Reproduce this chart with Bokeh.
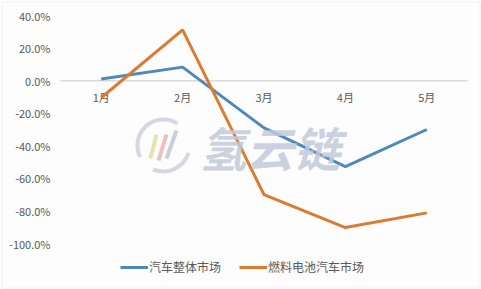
from bokeh.plotting import figure
from bokeh.models import Range1d, Legend, LegendItem, ColumnDataSource, BoxAnnotation, Label
from bokeh.core.properties import value
from bokeh.embed import file_html
from bokeh.resources import INLINE

months = ["1月", "2月", "3月", "4月", "5月"]
overall = [0.010, 0.083, -0.290, -0.528, -0.300]
fuel_cell = [-0.105, 0.312, -0.700, -0.902, -0.812]
y_ticks = [-1.0, -0.8, -0.6, -0.4, -0.2, 0.0, 0.2, 0.4]
y_tick_labels = ["-100.0%", "-80.0%", "-60.0%", "-40.0%", "-20.0%", "0.0%", "20.0%", "40.0%"]
series_names = ["汽车整体市场", "燃料电池汽车市场"]

FONT = "Noto Sans CJK SC"
GRAY = "#595959"
BLUE = "#4f88bb"
ORANGE = "#dc7a30"

W, H = 481, 289
# plot-area geometry (pixels): left/right edges and top/bottom of the value scale
PL, PR, PT, PB = 60, 467, 15, 243
YMIN, YMAX = -1.0, 0.4
n = len(months)
xs_per_px = n / (PR - PL)
ys_per_px = (YMAX - YMIN) / (PB - PT)
x0 = -0.5 - PL * xs_per_px
x1 = -0.5 + (W - PL) * xs_per_px
y1 = YMAX + PT * ys_per_px
y0 = YMAX - (H - PT) * ys_per_px


def px_x(px):
    return x0 + px * xs_per_px


def px_y(py):
    return y1 - py * ys_per_px


idx = list(range(n))
src = ColumnDataSource(dict(x=idx, m=months, a=overall, b=fuel_cell, z=[0.0] * n))
tsrc = ColumnDataSource(dict(y=y_ticks, t=y_tick_labels, x=[px_x(50)] * len(y_ticks)))

p = figure(width=W, height=H, output_backend="svg", toolbar_location=None,
           x_range=Range1d(x0, x1), y_range=Range1d(y0, y1),
           x_axis_location=None, y_axis_location=None,
           min_border=0, min_border_left=0, min_border_right=0,
           min_border_top=0, min_border_bottom=0)
p.background_fill_color = "#fdfdfd"
p.border_fill_color = "#fdfdfd"
p.outline_line_color = None
p.grid.visible = False

# watermark logo
cx, cy = px_x(163), px_y(145)
p.annular_wedge(x=[cx, cx], y=[cy, cy], inner_radius=24, outer_radius=28,
                inner_radius_units="screen", outer_radius_units="screen",
                start_angle=[1.0, 4.3], end_angle=[3.6, 6.0], direction="anticlock",
                fill_color="#c9cedd", fill_alpha=0.8, line_color=None)
p.segment(x0=[px_x(150), px_x(158), px_x(166)], y0=[px_y(158), px_y(160), px_y(158)],
          x1=[px_x(156), px_x(166), px_x(176)], y1=[px_y(134), px_y(134), px_y(130)],
          line_color=["#e6dfa4", "#e8b9b9", "#c3c9db"], line_width=4, line_alpha=0.9)
p.add_layout(Label(x=px_x(199), y=px_y(146), text="氢云链", text_font=FONT, text_font_size="47px",
                   text_font_style="bold italic", text_color="#c3c9db", text_alpha=0.85,
                   text_baseline="middle", text_align="left"))

# y tick labels
p.text(x="x", y="y", text="t", source=tsrc, text_font=value(FONT), text_font_size="11px",
       text_color=GRAY, text_align="right", text_baseline="middle")

# category axis line at zero
p.segment(x0=[px_x(PL)], y0=[0], x1=[px_x(PR)], y1=[0], line_color="#d9d9d9", line_width=1.5)

p.text(x="x", y="z", text="m", source=src, text_font=value(FONT), text_font_size="11px",
       text_color=GRAY, text_align="center", text_baseline="middle", y_offset=16)

r1 = p.line(x="x", y="a", source=src, line_color=BLUE, line_width=3)
r2 = p.line(x="x", y="b", source=src, line_color=ORANGE, line_width=3)

legend = Legend(items=[LegendItem(label=series_names[0], renderers=[r1]),
                       LegendItem(label=series_names[1], renderers=[r2])],
                orientation="horizontal", location=(120, H - 275),
                padding=0, margin=0, spacing=18, glyph_width=28, glyph_height=16,
                label_height=16, label_standoff=1, label_text_font=FONT,
                label_text_font_size="12px", label_text_color=GRAY,
                border_line_color=None, background_fill_alpha=0)
p.add_layout(legend, "center")

p.add_layout(BoxAnnotation(left=1.5, right=479.5, top=1.5, bottom=287.5,
                           left_units="canvas", right_units="canvas",
                           top_units="canvas", bottom_units="canvas",
                           fill_color=None, line_color="#d9d9d9", line_width=1))

open("out.html", "w").write(file_html(p, INLINE))
